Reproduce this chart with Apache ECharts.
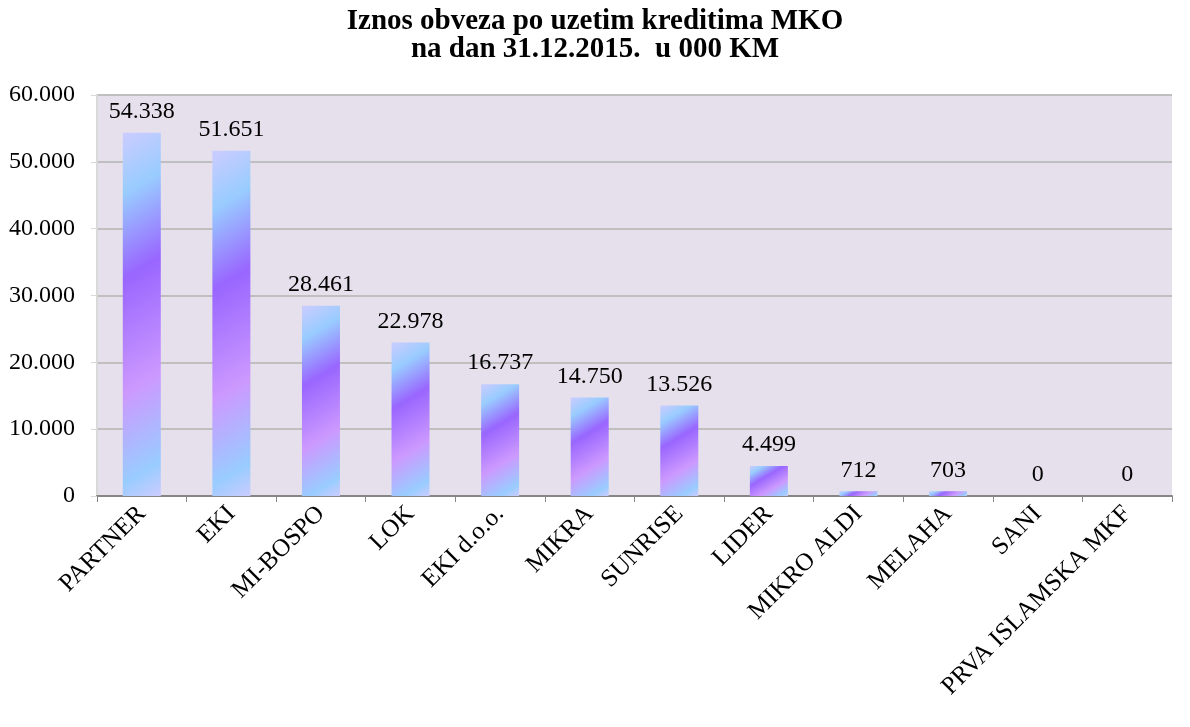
<!DOCTYPE html>
<html lang="bs">
<head>
    <meta charset="UTF-8">
    <title>Iznos obveza po uzetim kreditima MKO</title>
    <script src="https://cdn.jsdelivr.net/npm/echarts@6/dist/echarts.min.js"></script>
    <style>
        html, body { margin: 0; padding: 0; background: #ffffff; }
        #main { width: 1190px; height: 727px; }
    </style>
</head>
<body>
<div id="main"></div>
<script type="text/javascript">
    // podaci, u 000 KM
    var categories = ['PARTNER', 'EKI', 'MI-BOSPO', 'LOK', 'EKI d.o.o.', 'MIKRA', 'SUNRISE', 'LIDER',
        'MIKRO ALDI', 'MELAHA', 'SANI', 'PRVA ISLAMSKA MKF'];
    var values = [54338, 51651, 28461, 22978, 16737, 14750, 13526, 4499, 712, 703, 0, 0];
    var yTicks = [0, 10000, 20000, 30000, 40000, 50000, 60000];

    var font = '"Liberation Serif", "Times New Roman", serif';
    var barW = 38;
    var stops = [
        {offset: 0, color: '#CCCCFF'},
        {offset: 0.16, color: '#99CCFF'},
        {offset: 0.38, color: '#9966FF'},
        {offset: 0.68, color: '#CC99FF'},
        {offset: 0.91, color: '#99CCFF'},
        {offset: 1, color: '#CCCCFF'}
    ];

    function fmt(v) {
        return String(v).replace(/\B(?=(\d{3})+(?!\d))/g, '.');
    }

    var myChart = echarts.init(document.getElementById('main'));
    myChart.setOption({
        animation: false,
        title: {
            text: 'Iznos obveza po uzetim kreditima MKO\nna dan 31.12.2015.  u 000 KM',
            left: 'center',
            top: 3,
            textStyle: {fontFamily: font, fontSize: 29, fontWeight: 'bold', color: '#000', lineHeight: 28}
        },
        grid: {
            left: 97, right: 18, top: 95, bottom: 231,
            show: true, backgroundColor: '#E5E0EC', borderWidth: 0
        },
        xAxis: {
            type: 'category',
            data: categories,
            axisLine: {lineStyle: {color: '#868686', width: 2}},
            axisTick: {show: true, length: 6, lineStyle: {color: '#868686'}},
            axisLabel: {rotate: 45, interval: 0, margin: 14, fontFamily: font, fontSize: 25, color: '#000'}
        },
        yAxis: {
            type: 'value',
            min: yTicks[0],
            max: yTicks[yTicks.length - 1],
            interval: 10000,
            axisLine: {show: true, lineStyle: {color: '#D9D9D9', width: 2}},
            axisTick: {show: true, length: 6, lineStyle: {color: '#D9D9D9'}},
            splitLine: {lineStyle: {color: '#BFBFBF', width: 2}},
            axisLabel: {
                margin: 22, fontFamily: font, fontSize: 24, color: '#000',
                formatter: function (v) { return fmt(v); }
            }
        },
        series: [{
            type: 'bar',
            barWidth: barW,
            data: values,
            itemStyle: {color: new echarts.graphic.LinearGradient(0, 0, 1, 1, stops)},
            label: {
                show: true, position: 'top', distance: 9,
                fontFamily: font, fontSize: 24, color: '#000',
                formatter: function (p) { return fmt(p.value); }
            }
        }]
    });

    // dijagonalni gradijent za svaki stupac, pod istim kutom
    var base = myChart.convertToPixel({seriesIndex: 0}, [0, 0])[1];
    var items = values.map(function (v, i) {
        var h = base - myChart.convertToPixel({seriesIndex: 0}, [i, v])[1];
        if (h < 1) return v;
        var a = 0.6, b = 1;
        var t = (a * barW + b * h) / (a * a + b * b);
        return {
            value: v,
            itemStyle: {color: new echarts.graphic.LinearGradient(0, 0, a * t / barW, b * t / h, stops)}
        };
    });
    myChart.setOption({series: [{data: items}]});
</script>
</body>
</html>
